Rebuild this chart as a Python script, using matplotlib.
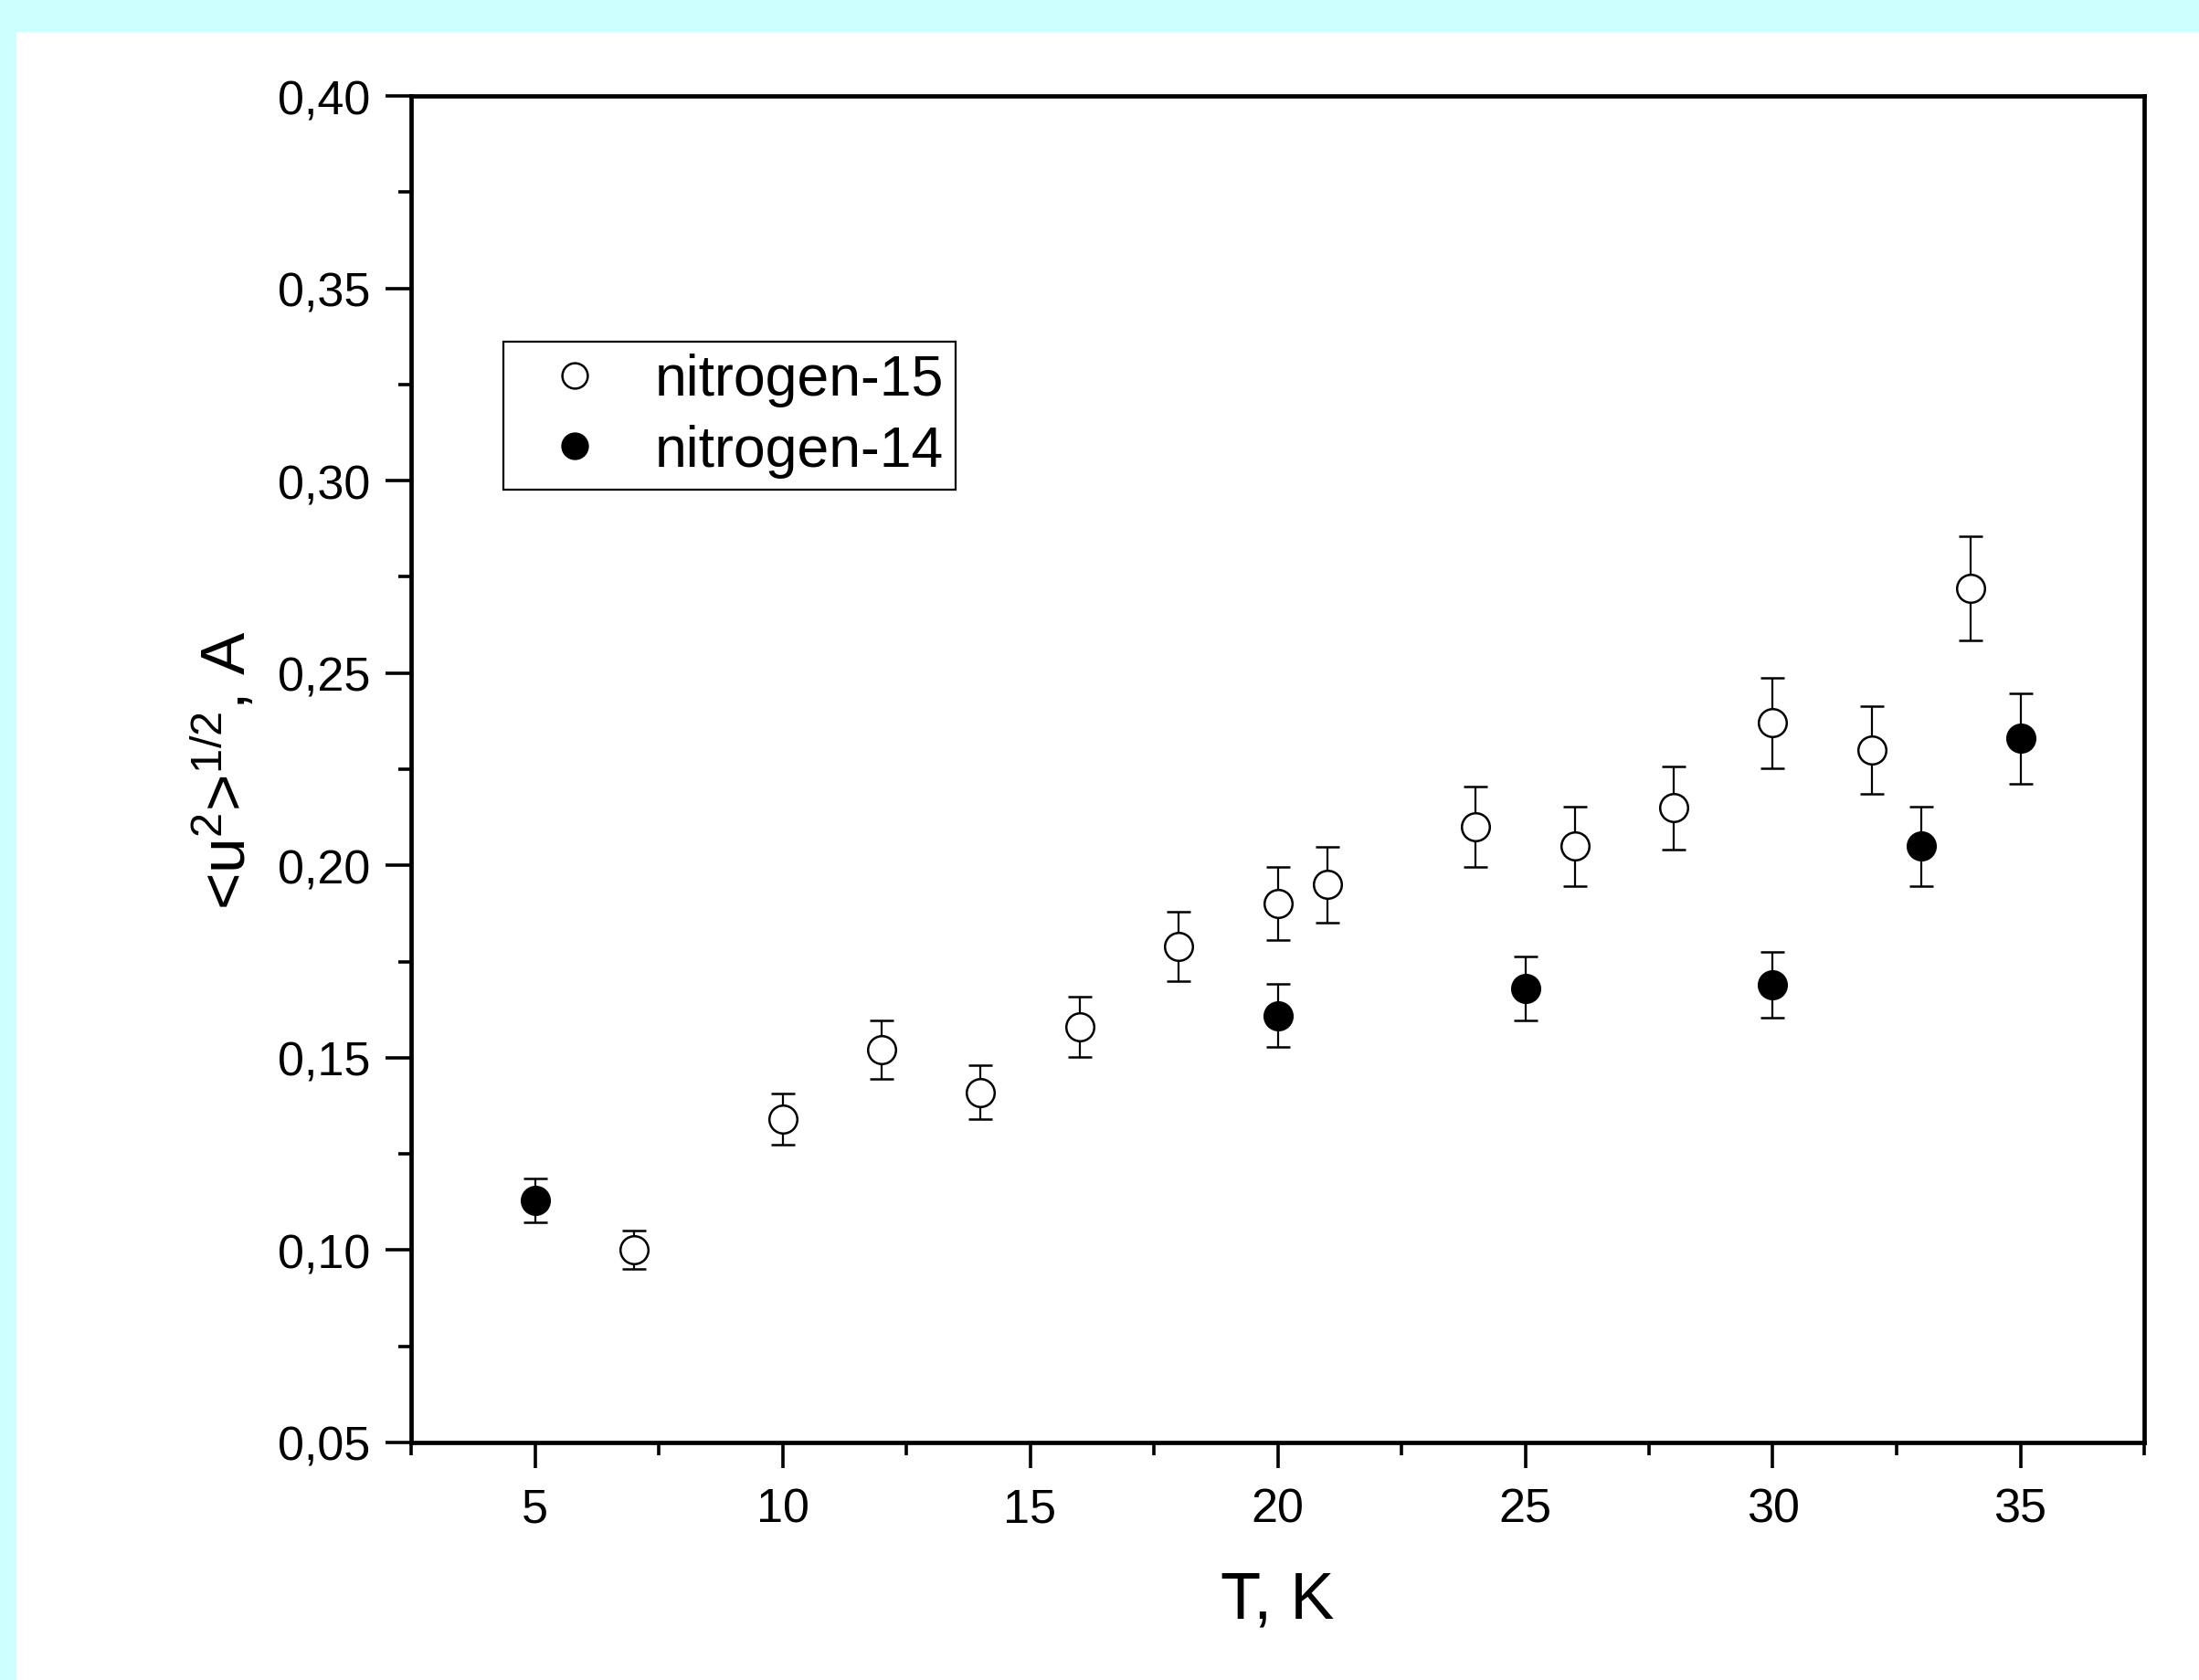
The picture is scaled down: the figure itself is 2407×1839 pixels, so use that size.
import matplotlib
matplotlib.use("Agg")
import matplotlib.pyplot as plt
from matplotlib.lines import Line2D
from matplotlib.patches import Rectangle
from matplotlib.ticker import MultipleLocator, FixedLocator, FixedFormatter

# ---- data ----
t_n15 = [7, 10, 12, 14, 16, 18, 20, 21, 24, 26, 28, 30, 32, 34]
u_n15 = [0.100, 0.134, 0.152, 0.141, 0.158, 0.179, 0.190, 0.195, 0.210, 0.205, 0.215, 0.237, 0.230, 0.272]
e_n15 = [0.005, 0.0067, 0.0076, 0.0070, 0.0079, 0.0090, 0.0095, 0.0098, 0.0105, 0.0103, 0.0108, 0.0118, 0.0115, 0.0136]

t_n14 = [5, 20, 25, 30, 33, 35]
u_n14 = [0.113, 0.161, 0.168, 0.169, 0.205, 0.233]
e_n14 = [0.0057, 0.0081, 0.0084, 0.0085, 0.0103, 0.0117]

xticks = [5, 10, 15, 20, 25, 30, 35]
xticklabels = ["5", "10", "15", "20", "25", "30", "35"]
yticks = [0.05, 0.10, 0.15, 0.20, 0.25, 0.30, 0.35, 0.40]
yticklabels = ["0,05", "0,10", "0,15", "0,20", "0,25", "0,30", "0,35", "0,40"]
labels = ["nitrogen-15", "nitrogen-14"]

plt.rcParams['font.family'] = ['Liberation Sans', 'DejaVu Sans']
plt.rcParams['mathtext.fontset'] = 'custom'
plt.rcParams['mathtext.rm'] = 'Liberation Sans'
plt.rcParams['mathtext.it'] = 'Liberation Sans'

fig = plt.figure(figsize=(24.07, 18.40), dpi=100, facecolor='#ccffff')
bg = Rectangle((18/2407, 0), 1, (1840-36)/1840, transform=fig.transFigure,
               facecolor='white', edgecolor='none', zorder=-10)
fig.add_artist(bg)
ax = fig.add_axes([450/2407, 260/1840, 1897/2407, 1474/1840])
ax.set_zorder(1)
ax.set_facecolor('white')

ms = 22
ebkw = dict(elinewidth=1.6, capsize=9.5, capthick=1.6, ecolor='black', linestyle='none',
            markersize=ms, markeredgewidth=1.8, markeredgecolor='black')
ax.errorbar(t_n15, u_n15, yerr=e_n15, fmt='o', markerfacecolor='white', zorder=3, **ebkw)
ax.errorbar(t_n14, u_n14, yerr=e_n14, fmt='o', markerfacecolor='black', zorder=3, **ebkw)

ax.set_xlim(2.5, 37.5)
ax.set_ylim(0.05, 0.40)
ax.xaxis.set_major_locator(FixedLocator(xticks))
ax.xaxis.set_major_formatter(FixedFormatter(xticklabels))
ax.xaxis.set_minor_locator(MultipleLocator(2.5))
ax.yaxis.set_major_locator(FixedLocator(yticks))
ax.yaxis.set_major_formatter(FixedFormatter(yticklabels))
ax.yaxis.set_minor_locator(MultipleLocator(0.025))

for s in ax.spines.values():
    s.set_linewidth(3.4)
ax.tick_params(which='major', direction='out', length=20, width=2.6, labelsize=37.5, pad=12,
               top=False, right=False)
ax.tick_params(which='minor', direction='out', length=10, width=2.6, top=False, right=False)
ax.tick_params(axis='x', which='major', pad=15)

ax.set_xlabel("T, K", fontsize=52, labelpad=30)
ax.set_ylabel(r"<u$^\mathregular{2}$>$^\mathregular{1/2}$, A", fontsize=50, labelpad=15)

handles = [Line2D([], [], linestyle='none', marker='o', markersize=20, markerfacecolor='white',
                  markeredgecolor='black', markeredgewidth=1.8),
           Line2D([], [], linestyle='none', marker='o', markersize=20, markerfacecolor='black',
                  markeredgecolor='black', markeredgewidth=1.8)]
leg = ax.legend(handles, labels, loc='upper left',
                bbox_to_anchor=((551-450)/1897, (1580-375)/1474),
                fontsize=45, frameon=True, fancybox=False, framealpha=1,
                edgecolor='black', borderaxespad=0, borderpad=0.2,
                handlelength=2.1, handletextpad=0.36, labelspacing=0.3)
leg.get_frame().set_linewidth(1.6)

fig.savefig("out.png", dpi=100, facecolor=fig.get_facecolor())
